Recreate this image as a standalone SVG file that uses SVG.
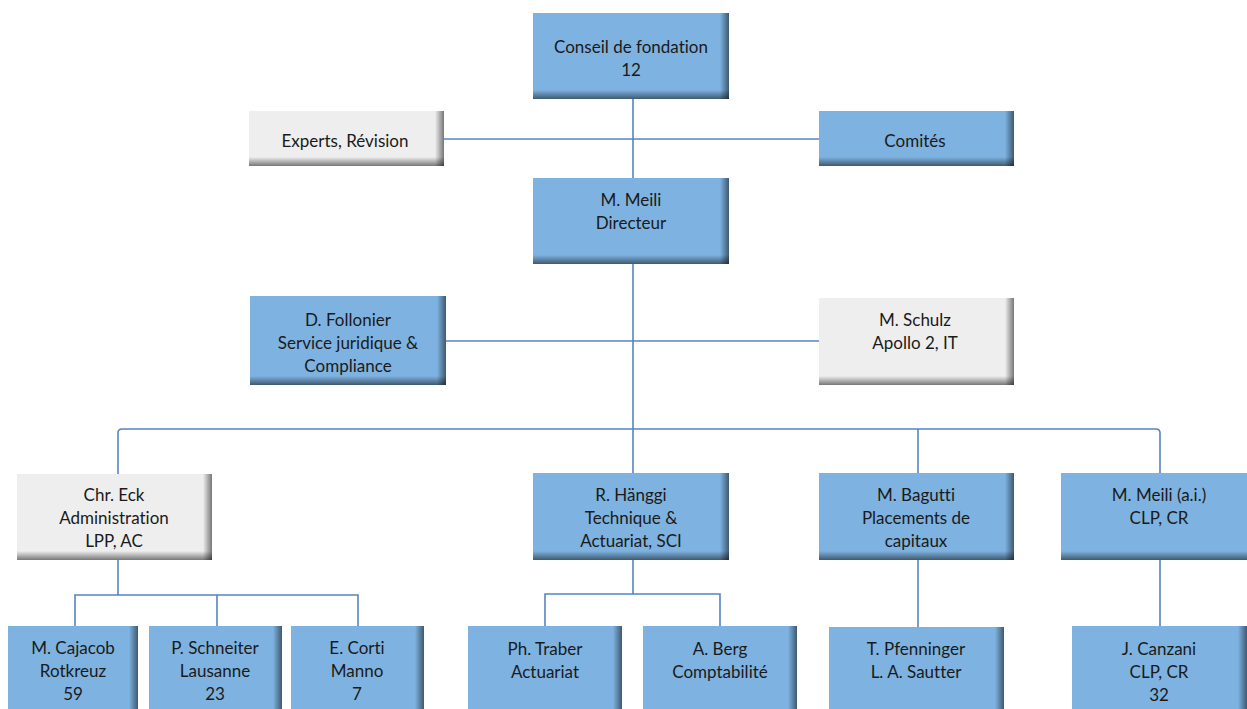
<svg xmlns="http://www.w3.org/2000/svg" width="1247" height="709" viewBox="0 0 1247 709">
<defs>
<linearGradient id="gR" x1="0" y1="0" x2="1" y2="0"><stop offset="0" stop-color="#000" stop-opacity="0"/><stop offset="1" stop-color="#000" stop-opacity="0.5"/></linearGradient>
<linearGradient id="gB" x1="0" y1="0" x2="0" y2="1"><stop offset="0" stop-color="#000" stop-opacity="0"/><stop offset="1" stop-color="#000" stop-opacity="0.5"/></linearGradient>
<style>
.blue{fill:#7EB2E0}
.gray{fill:#EEEEEE}
.sr{fill:url(#gR)}
.sb{fill:url(#gB)}
text{font-family:Lato,"Liberation Sans",sans-serif;font-size:17px;fill:#1a1a1a;text-anchor:middle;font-variant-ligatures:none}
.c{fill:none;stroke:#5584C4;stroke-width:1.6}
</style>
</defs>
<rect width="1247" height="709" fill="#fff"/>
<g id="connectors">
<path class="c" d="M633 99V178"/>
<path class="c" d="M444 139H819"/>
<path class="c" d="M633 264V474"/>
<path class="c" d="M446 341H819"/>
<path class="c" d="M118 474V433Q118 429 122 429H1156Q1160 429 1160 433V473"/>
<path class="c" d="M918 429V473"/>
<path class="c" d="M118 560V595M75 626V595H358V626M217 595V626"/>
<path class="c" d="M633 560V594M545 626V594H720V626"/>
<path class="c" d="M918 560V627"/>
<path class="c" d="M1160 560V626"/>
</g>
<g id="conseil"><rect class="blue" x="533" y="13" width="196" height="86"/><rect class="sr" x="720" y="13" width="9" height="86"/><rect class="sb" x="533" y="90" width="196" height="9"/><text x="631" y="53">Conseil de fondation</text><text x="631" y="76">12</text></g>
<g id="experts"><rect class="gray" x="249" y="111" width="195" height="55"/><rect class="sr" x="435" y="111" width="9" height="55"/><rect class="sb" x="249" y="157" width="195" height="9"/><text x="345" y="147">Experts, Révision</text></g>
<g id="comites"><rect class="blue" x="819" y="111" width="195" height="55"/><rect class="sr" x="1005" y="111" width="9" height="55"/><rect class="sb" x="819" y="157" width="195" height="9"/><text x="915" y="147">Comités</text></g>
<g id="meili"><rect class="blue" x="533" y="178" width="196" height="86"/><rect class="sr" x="720" y="178" width="9" height="86"/><rect class="sb" x="533" y="255" width="196" height="9"/><text x="631" y="206">M. Meili</text><text x="631" y="229">Directeur</text></g>
<g id="follonier"><rect class="blue" x="250" y="296" width="196" height="89"/><rect class="sr" x="437" y="296" width="9" height="89"/><rect class="sb" x="250" y="376" width="196" height="9"/><text x="348" y="326">D. Follonier</text><text x="348" y="349">Service juridique &amp;</text><text x="348" y="372">Compliance</text></g>
<g id="schulz"><rect class="gray" x="819" y="298" width="195" height="87"/><rect class="sr" x="1005" y="298" width="9" height="87"/><rect class="sb" x="819" y="376" width="195" height="9"/><text x="915" y="326">M. Schulz</text><text x="915" y="349">Apollo 2, IT</text></g>
<g id="eck"><rect class="gray" x="17" y="474" width="195" height="86"/><rect class="sr" x="203" y="474" width="9" height="86"/><rect class="sb" x="17" y="551" width="195" height="9"/><text x="114" y="501">Chr. Eck</text><text x="114" y="524">Administration</text><text x="114" y="547">LPP, AC</text></g>
<g id="hanggi"><rect class="blue" x="533" y="473" width="196" height="87"/><rect class="sr" x="720" y="473" width="9" height="87"/><rect class="sb" x="533" y="551" width="196" height="9"/><text x="631" y="501">R. Hänggi</text><text x="631" y="524">Technique &amp;</text><text x="631" y="547">Actuariat, SCI</text></g>
<g id="bagutti"><rect class="blue" x="819" y="473" width="195" height="87"/><rect class="sr" x="1005" y="473" width="9" height="87"/><rect class="sb" x="819" y="551" width="195" height="9"/><text x="916" y="501">M. Bagutti</text><text x="916" y="524">Placements de</text><text x="916" y="547">capitaux</text></g>
<g id="meili-ai"><rect class="blue" x="1061" y="473" width="196" height="87"/><rect class="sr" x="1248" y="473" width="9" height="87"/><rect class="sb" x="1061" y="551" width="196" height="9"/><text x="1159" y="501">M. Meili (a.i.)</text><text x="1159" y="524">CLP, CR</text></g>
<g id="cajacob"><rect class="blue" x="8" y="626" width="130" height="100"/><rect class="sr" x="129" y="626" width="9" height="100"/><text x="73" y="654">M. Cajacob</text><text x="73" y="677">Rotkreuz</text><text x="73" y="700">59</text></g>
<g id="schneiter"><rect class="blue" x="149" y="626" width="133" height="100"/><rect class="sr" x="273" y="626" width="9" height="100"/><text x="215" y="654">P. Schneiter</text><text x="215" y="677">Lausanne</text><text x="215" y="700">23</text></g>
<g id="corti"><rect class="blue" x="291" y="626" width="133" height="100"/><rect class="sr" x="415" y="626" width="9" height="100"/><text x="357" y="654">E. Corti</text><text x="357" y="677">Manno</text><text x="357" y="700">7</text></g>
<g id="traber"><rect class="blue" x="468" y="626" width="154" height="100"/><rect class="sr" x="613" y="626" width="9" height="100"/><text x="545" y="655">Ph. Traber</text><text x="545" y="678">Actuariat</text></g>
<g id="berg"><rect class="blue" x="643" y="626" width="154" height="100"/><rect class="sr" x="788" y="626" width="9" height="100"/><text x="720" y="655">A. Berg</text><text x="720" y="678">Comptabilité</text></g>
<g id="pfenninger"><rect class="blue" x="829" y="627" width="175" height="100"/><rect class="sr" x="995" y="627" width="9" height="100"/><text x="916" y="655">T. Pfenninger</text><text x="916" y="678">L. A. Sautter</text></g>
<g id="canzani"><rect class="blue" x="1072" y="626" width="175" height="100"/><rect class="sr" x="1238" y="626" width="9" height="100"/><text x="1159" y="655">J. Canzani</text><text x="1159" y="678">CLP, CR</text><text x="1159" y="701">32</text></g>
</svg>
